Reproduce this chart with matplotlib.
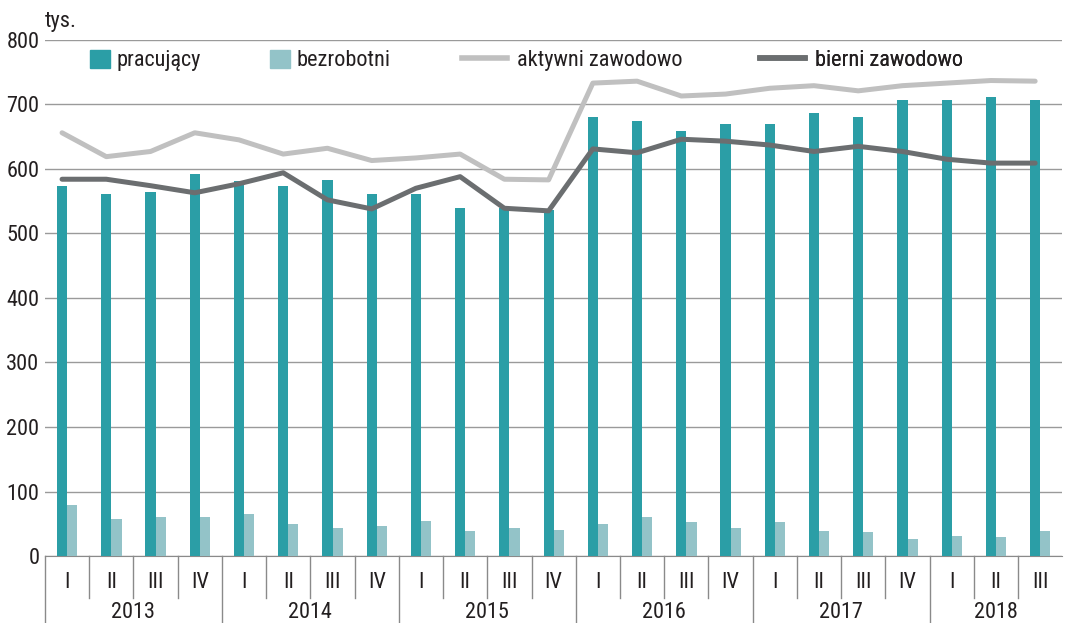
import matplotlib.pyplot as plt
import matplotlib.transforms as mtransforms
from matplotlib.patches import Patch
from matplotlib.lines import Line2D
import numpy as np
import warnings

warnings.filterwarnings('ignore')
plt.rcParams['font.family'] = ['Roboto Condensed', 'Liberation Sans', 'DejaVu Sans']

years = ['2013', '2014', '2015', '2016', '2017', '2018']
quarters = ['I', 'II', 'III', 'IV'] * 5 + ['I', 'II', 'III']

pracujacy = [574, 561, 564, 592, 582, 573, 583, 561, 561, 540, 540, 536,
             680, 675, 659, 670, 669, 686, 680, 707, 707, 711, 707]
bezrobotni = [79, 58, 61, 61, 65, 49, 44, 47, 55, 39, 43, 41,
              49, 60, 53, 44, 53, 39, 37, 27, 31, 30, 39]
aktywni = [656, 619, 627, 656, 645, 623, 632, 613, 617, 623, 584, 583,
           733, 736, 713, 716, 725, 729, 721, 729, 733, 737, 736]
bierni = [584, 584, 574, 563, 577, 594, 552, 538, 570, 588, 539, 535,
          631, 625, 646, 643, 637, 627, 635, 627, 615, 609, 609]

c_prac = '#2b9ea6'
c_bezr = '#93c3c8'
c_akt = '#c0c0c0'
c_bier = '#6b6e70'
c_txt = '#231f20'

fig = plt.figure(figsize=(10.72, 6.23), dpi=100)
ax = fig.add_axes([0.042, 0.1075, 0.949, 0.8285])

x = np.arange(len(pracujacy))
w = 0.23

ax.bar(x - w / 2, pracujacy, width=w, color=c_prac, zorder=3)
ax.bar(x + w / 2, bezrobotni, width=w, color=c_bezr, zorder=3)
ax.plot(x - w / 2, aktywni, color=c_akt, lw=3.6, zorder=4, solid_capstyle='round')
ax.plot(x - w / 2, bierni, color=c_bier, lw=3.6, zorder=5, solid_capstyle='round')

ax.set_xlim(-0.5, len(x) - 0.5)
ax.set_ylim(0, 800)
ax.set_yticks(range(0, 801, 100))
ax.tick_params(axis='y', length=0, labelsize=16, pad=4, labelcolor=c_txt)
ax.set_xticks([])
ax.grid(axis='y', color='#9a9a9a', lw=1, zorder=0)
for s in ['top', 'right', 'left']:
    ax.spines[s].set_visible(False)
ax.spines['bottom'].set_color('#8a8a8a')

ax.text(0.0, 1.015, 'tys.', transform=ax.transAxes, fontsize=16, ha='left', va='bottom', color=c_txt)

# two-level category axis
tr = mtransforms.blended_transform_factory(ax.transData, ax.transAxes)
q_bottom = -0.081
y_bottom = -0.13
starts = [0, 4, 8, 12, 16, 20]
for i in range(len(x)):
    b = i - 0.5
    if i in starts:
        ax.plot([b, b], [0, y_bottom], color='#8a8a8a', lw=1, transform=tr, clip_on=False)
    else:
        ax.plot([b, b], [0, q_bottom], color='#8a8a8a', lw=1, transform=tr, clip_on=False)
for xi, q in zip(x, quarters):
    ax.text(xi, -0.052, q, transform=tr, ha='center', va='center', fontsize=16, color=c_txt)
for k, yr in enumerate(years):
    s = starts[k]
    e = starts[k + 1] if k + 1 < len(starts) else len(x)
    ax.text((s + e - 1) / 2, -0.11, yr, transform=tr, ha='center', va='center', fontsize=16, color=c_txt)

# legend entries placed one by one
handles = [Patch(color=c_prac), Patch(color=c_bezr),
           Line2D([], [], color=c_akt, lw=4), Line2D([], [], color=c_bier, lw=4)]
labels = ['pracujący', 'bezrobotni', 'aktywni zawodowo', 'bierni zawodowo']
anchors = [0.044, 0.221, 0.41, 0.703]
lens = [0.9, 0.9, 2.0, 2.0]
pads = [0.3, 0.3, 0.45, 0.45]
for h, lab, a, hl, p in zip(handles, labels, anchors, lens, pads):
    lg = ax.legend([h], [lab], loc='center left', bbox_to_anchor=(a, 0.96),
                   frameon=False, fontsize=16, handlelength=hl, handleheight=0.9,
                   handletextpad=p, borderpad=0, borderaxespad=0, labelcolor=c_txt)
    ax.add_artist(lg)

fig.savefig('out.png', dpi=100)
